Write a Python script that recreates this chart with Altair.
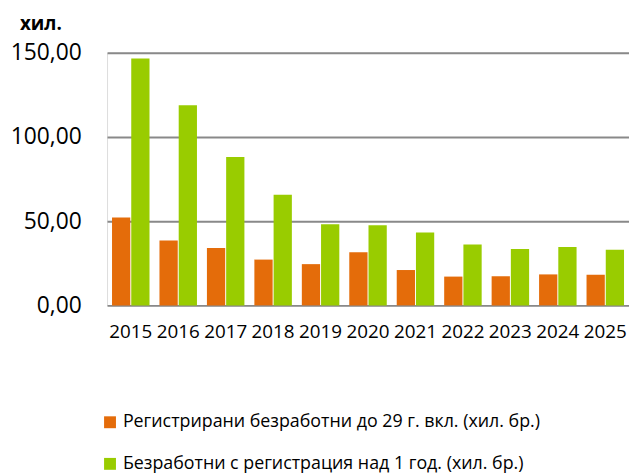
import altair as alt
import pandas as pd

years = ["2015", "2016", "2017", "2018", "2019", "2020", "2021", "2022", "2023", "2024", "2025"]
series_names = [
    "Регистрирани безработни до 29 г. вкл. (хил. бр.)",
    "Безработни с регистрация над 1 год. (хил. бр.)",
]
youth = [52.2, 38.6, 34.1, 27.2, 24.5, 31.6, 21.0, 17.1, 17.3, 18.4, 18.2]
longterm = [146.7, 118.8, 88.2, 65.7, 48.2, 47.6, 43.3, 36.1, 33.5, 34.7, 33.1]
colors = ["#E46C0A", "#99CC00"]
y_ticks = [0, 50, 100, 150]
unit_label = "хил."

rows = []
for i, yr in enumerate(years):
    rows.append({"year": yr, "series": series_names[0], "order": 0, "value": youth[i]})
    rows.append({"year": yr, "series": series_names[1], "order": 1, "value": longterm[i]})
df = pd.DataFrame(rows)

FONT = "Open Sans"

bars = alt.Chart(df).mark_bar().encode(
    x=alt.X("year:N", sort=years,
            scale=alt.Scale(paddingInner=0.21, paddingOuter=0.105),
            axis=alt.Axis(title=None, labelAngle=0, labelFontSize=19, labelFont=FONT,
                          labelColor="#000000", ticks=False, domain=False, grid=False,
                          labelPadding=17)),
    xOffset=alt.XOffset("series:N", sort=series_names,
                        scale=alt.Scale(paddingInner=0.05)),
    y=alt.Y("value:Q", scale=alt.Scale(domain=[0, 150], nice=False),
            axis=alt.Axis(title=None, values=y_ticks, ticks=False, domain=False,
                          labelFontSize=23, labelFont=FONT, labelColor="#000000",
                          labelPadding=26, gridColor="#898989", gridWidth=2,
                          gridOpacity=1,
                          labelExpr="replace(format(datum.value, '.2f'), '.', ',')")),
    color=alt.Color("series:N", sort=series_names,
                    scale=alt.Scale(domain=series_names, range=colors),
                    legend=alt.Legend(title=None, orient="none", legendX=-6, legendY=364,
                                      direction="vertical", symbolType="square",
                                      symbolSize=144, symbolStrokeWidth=0,
                                      labelFontSize=18, labelFont=FONT,
                                      labelColor="#000000", rowPadding=24,
                                      labelLimit=600, symbolOffset=0, labelOffset=4)),
)

unit = alt.Chart(pd.DataFrame({"t": [unit_label]})).mark_text(
    align="left", baseline="alphabetic", font=FONT, fontSize=19, fontWeight="bold",
    color="#000000"
).encode(text="t:N", x=alt.value(-88), y=alt.value(-23))

chart = alt.layer(bars, unit).properties(
    width=527, height=255,
    autosize=alt.AutoSizeParams(type="none"),
    padding={"left": 100, "top": 43, "right": 0, "bottom": 170},
).configure_view(stroke=None).configure(background="#ffffff")

chart.save("out.html", embed_options={"renderer": "svg", "actions": False})
